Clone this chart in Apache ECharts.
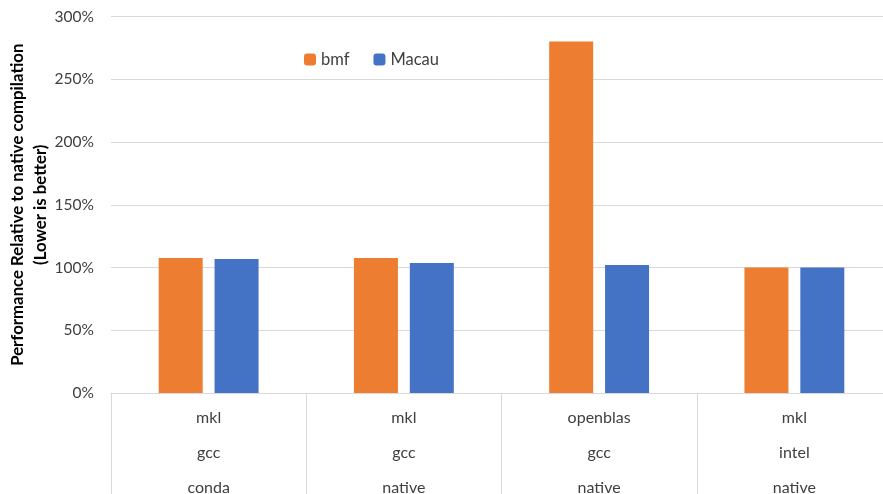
<!DOCTYPE html>
<html><head><meta charset="utf-8">
<script src="https://cdn.jsdelivr.net/npm/echarts@6/dist/echarts.min.js"></script>
<style>html,body{margin:0;padding:0;background:#fff}#c{width:883px;height:494px}</style>
</head><body><div id="c"></div>
<script>
const categories = ['mkl\ngcc\nconda', 'mkl\ngcc\nnative', 'openblas\ngcc\nnative', 'mkl\nintel\nnative'];
const bmf = [107.5, 107.5, 280, 100];
const macau = [106.7, 103.5, 102, 100];
const yTicks = {min: 0, max: 300, interval: 50};
const font = 'Lato, "Open Sans", sans-serif';
const chart = echarts.init(document.getElementById('c'));
chart.setOption({
  animation: false,
  textStyle: {fontFamily: font},
  legend: {
    left: 299, top: 46, itemWidth: 12, itemHeight: 12, itemGap: 24,
    textStyle: {fontSize: 16.5, color: '#404040', fontFamily: font},
    data: ['bmf', 'Macau']
  },
  grid: {left: 111, right: -9, top: 16.5, bottom: 101, containLabel: false, outerBoundsMode: 'none'},
  xAxis: {
    type: 'category', data: categories,
    axisLine: {lineStyle: {color: '#d9d9d9', width: 1}},
    axisTick: {show: true, length: 110, interval: 0, lineStyle: {color: '#d9d9d9'}},
    axisLabel: {interval: 0, color: '#404040', fontSize: 16, lineHeight: 35, margin: 7, fontFamily: font}
  },
  yAxis: {
    type: 'value', min: yTicks.min, max: yTicks.max, interval: yTicks.interval,
    name: 'Performance Relative to native compilation\n(Lower is better)',
    nameLocation: 'middle', nameGap: 59, nameMoveOverlap: false,
    nameTextStyle: {fontSize: 16.8, fontWeight: 'bold', color: '#000', lineHeight: 23, fontFamily: font},
    axisLine: {show: false}, axisTick: {show: false},
    axisLabel: {formatter: v => v + '%', color: '#404040', fontSize: 15.5, margin: 17, fontFamily: font},
    splitLine: {lineStyle: {color: '#d9d9d9', width: 1}}
  },
  series: [
    {name: 'bmf', type: 'bar', data: bmf, barWidth: 44, barGap: '27%', itemStyle: {color: '#ED7D31'}},
    {name: 'Macau', type: 'bar', data: macau, barWidth: 44, itemStyle: {color: '#4472C4'}}
  ]
});
</script></body></html>
